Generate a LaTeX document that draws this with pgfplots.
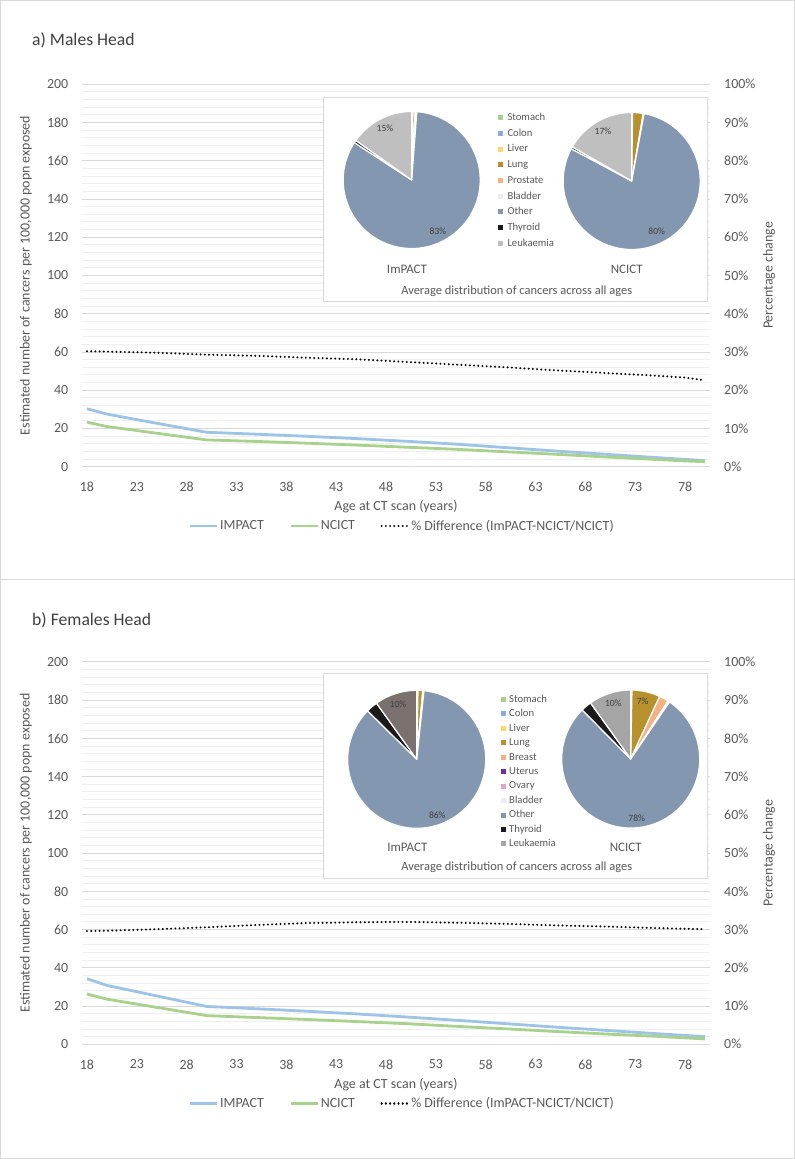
\documentclass[border=0pt]{standalone}
\usepackage{pgfplots}
\usepackage{pgfplotstable}
\pgfplotsset{compat=1.18}
\usepackage{fontspec}
\setmainfont{Carlito}
\newcommand\fs[1]{\fontsize{#1}{#1}\selectfont}

\definecolor{txt}{HTML}{595959}
\definecolor{dark}{HTML}{404040}
\definecolor{gridmaj}{HTML}{D9D9D9}
\definecolor{gridmin}{HTML}{EFEFEF}
\definecolor{cImpact}{HTML}{9DC3E6}
\definecolor{cNcict}{HTML}{A9D18E}
\definecolor{pStomach}{HTML}{A9D18E}
\definecolor{pColon}{HTML}{8FAADC}
\definecolor{pLiver}{HTML}{FFD966}
\definecolor{pLung}{HTML}{B8912F}
\definecolor{pProstate}{HTML}{F4B183}
\definecolor{pBreast}{HTML}{F4B183}
\definecolor{pUterus}{HTML}{7030A0}
\definecolor{pOvary}{HTML}{E6A5C8}
\definecolor{pBladder}{HTML}{EDEDED}
\definecolor{pOther}{HTML}{8497B0}
\definecolor{pThyroid}{HTML}{1A1A1A}
\definecolor{pLeukM}{HTML}{BFBFBF}
\definecolor{pLeukFa}{HTML}{7A706E}
\definecolor{pLeukFb}{HTML}{A5A5A5}

% age, IMPACT, NCICT (cancers per 100,000), % difference
\pgfplotstableread{
age impact ncict diff
18 30.3 23.3 30.2
20 27.5 21.0 30.1
25 22.7 17.5 29.8
30 18.0 14.0 29.3
35 17.0 13.2 29.0
40 15.9 12.3 28.5
45 14.7 11.3 28.1
50 13.3 10.2 27.4
55 11.8 9.1 26.7
60 10.0 7.8 26.0
65 8.2 6.5 25.2
70 6.5 5.1 24.5
75 4.8 3.8 23.8
78 3.8 3.0 23.3
80 3.2 2.6 22.6
}\maletab

\pgfplotstableread{
age impact ncict diff
18 34.3 26.3 29.6
20 30.8 23.6 29.7
25 25.3 19.3 30.1
30 19.8 15.0 30.6
35 18.6 14.0 31.2
40 17.3 13.0 31.7
45 15.9 11.9 31.9
50 14.3 10.8 32.0
55 12.6 9.4 31.8
60 10.8 8.1 31.5
65 9.0 6.7 31.1
70 7.3 5.4 30.8
75 5.6 4.2 30.4
80 4.0 2.8 30.1
}\femtab

\pgfplotsset{
 leftax/.style={
  scale only axis, width=628bp, height=382.4bp, anchor=south west,
  xmin=17.5, xmax=80.5, ymin=0, ymax=200,
  xtick={18,23,...,78}, ytick={0,20,...,200}, minor y tick num=4,
  ymajorgrids, yminorgrids,
  major grid style={draw=gridmaj, line width=0.9bp},
  minor grid style={draw=gridmin, line width=0.9bp},
  axis line style={draw=none}, tick style={draw=none},
  major tick length=0pt, minor tick length=0pt,
  /pgf/number format/assume math mode=true,
  tick label style={font=\fs{14}, text=txt, inner sep=0pt},
  xticklabel style={anchor=center, yshift=-20bp},
  yticklabel style={anchor=east, xshift=-13.5bp},
  xlabel={Age at CT scan (years)},
  ylabel={Estimated number of cancers per 100,000 popn exposed},
  every axis x label/.style={at={(axis description cs:0.5,-0.1054)}, anchor=center, font=\fs{14}, text=txt},
  every axis y label/.style={at={(axis description cs:-0.0892,0.5)}, anchor=center, rotate=90, font=\fs{14}, text=txt},
  legend style={at={(0.5096,-0.155)}, anchor=center, draw=none, fill=none,
    legend columns=3, font=\fs{14}, text=txt,
    /tikz/every even column/.append style={column sep=24bp},
    nodes={inner sep=1.5bp}},
  legend image code/.code={\draw[##1] (0bp,0bp) -- (27bp,0bp);},
 },
 rightax/.style={
  scale only axis, width=628bp, height=382.4bp, anchor=south west,
  xmin=17.5, xmax=80.5, ymin=0, ymax=100,
  axis y line*=right, hide x axis,
  axis line style={draw=none}, tick style={draw=none},
  major tick length=0pt, minor tick length=0pt,
  ytick={0,10,...,100},
  yticklabel={\pgfmathprintnumber{\tick}\%},
  /pgf/number format/assume math mode=true,
  tick label style={font=\fs{14}, text=txt, inner sep=0pt},
  yticklabel style={anchor=west, xshift=14bp},
  ylabel={Percentage change},
  every axis y label/.style={at={(axis description cs:1.094,0.5)}, anchor=center, rotate=90, font=\fs{14}, text=txt},
 },
 impactline/.style={cImpact, line width=2.8bp, line join=round},
 ncictline/.style={cNcict, line width=2.8bp, line join=round},
 diffline/.style={black, line width=2.2bp, dash pattern=on 0.01bp off 4.2bp, line cap=round},
}

% pie: centre x, centre y, radius, list of share/colour (clockwise from 12 o'clock)
\newcommand\pie[4]{%
  \gdef\cum{0}%
  \foreach \v/\col in {#4}{%
    \pgfmathsetmacro\sa{90-3.6*\cum}%
    \pgfmathsetmacro\ea{90-3.6*(\cum+\v)}%
    \filldraw[fill=\col, draw=white, line width=1.2bp, line join=round]
      (#1,#2) -- ++(\sa:#3) arc[start angle=\sa, end angle=\ea, radius=#3] -- cycle;%
    \pgfmathsetmacro\nc{\cum+\v}%
    \xdef\cum{\nc}%
  }%
}

\begin{document}
\begin{tikzpicture}[x=1bp,y=1bp]
\useasboundingbox (0,0) rectangle (795,1159);

% panel frames
\draw[gridmaj, line width=0.9bp] (0.5,1158.5) rectangle (794.5,579.7);
\draw[gridmaj, line width=0.9bp] (0.5,579.7) rectangle (794.5,0.8);

% ---------------- a) Males Head ----------------
\node[anchor=west, font=\fs{17.7}, text=dark, inner sep=0pt] at (32,1118.3) {a) Males Head};

\begin{axis}[leftax, at={(82bp,692.3bp)}]
\addplot[impactline] table[x=age, y=impact] \maletab;
\addlegendentry{IMPACT}
\addplot[ncictline] table[x=age, y=ncict] \maletab;
\addlegendentry{NCICT}
\addlegendimage{diffline}
\addlegendentry{\% Difference (ImPACT-NCICT/NCICT)}
\end{axis}
\begin{axis}[rightax, at={(82bp,692.3bp)}]
\addplot[diffline] table[x=age, y=diff] \maletab;
\end{axis}

\filldraw[fill=white, draw=gridmaj, line width=0.9bp] (323,857.3) rectangle (707.7,1062);
\pie{411.7}{979}{68.5}{0.1/pStomach,0.1/pColon,0.1/pLiver,0.5/pLung,0.2/pProstate,0.2/pBladder,83.0/pOther,0.6/pThyroid,15.2/pLeukM}
\pie{631.7}{978}{68.5}{0.05/pStomach,0.05/pColon,0.1/pLiver,2.5/pLung,0.1/pProstate,0.1/pBladder,79.9/pOther,0.5/pThyroid,16.7/pLeukM}
\begin{scope}[every node/.style={inner sep=0pt, text=dark, font=\fs{9.6}}]
\node at (385,1030.7) {15\%};
\node at (438,928) {83\%};
\node at (603,1028) {17\%};
\node at (656.7,927.3) {80\%};
\end{scope}
\node[inner sep=0pt, text=txt, font=\fs{13}] at (407,890) {ImPACT};
\node[inner sep=0pt, text=txt, font=\fs{13}] at (626.7,890) {NCICT};
\node[inner sep=0pt, text=txt, font=\fs{12.5}] at (516.7,868) {Average distribution of cancers across all ages};
\foreach \n/\col [count=\i] in {Stomach/pStomach,Colon/pColon,Liver/pLiver,Lung/pLung,Prostate/pProstate,Bladder/pBladder,Other/pOther,Thyroid/pThyroid,Leukaemia/pLeukM}{
  \pgfmathsetmacro\yy{1041.3-15.7*(\i-1)}
  \fill[\col] (497.5,\yy-2.5) rectangle ++(5,5);
  \node[anchor=west, inner sep=0pt, text height=1.45ex, text depth=0.25ex, text=txt, font=\fs{10.7}] at (507.3,\yy) {\n};
}

% ---------------- b) Females Head ----------------
\node[anchor=west, font=\fs{17.7}, text=dark, inner sep=0pt] at (32,539) {b) Females Head};

\begin{axis}[leftax, at={(82bp,114.7bp)}]
\addplot[impactline] table[x=age, y=impact] \femtab;
\addlegendentry{IMPACT}
\addplot[ncictline] table[x=age, y=ncict] \femtab;
\addlegendentry{NCICT}
\addlegendimage{diffline}
\addlegendentry{\% Difference (ImPACT-NCICT/NCICT)}
\end{axis}
\begin{axis}[rightax, at={(82bp,114.7bp)}]
\addplot[diffline] table[x=age, y=diff] \femtab;
\end{axis}

\filldraw[fill=white, draw=gridmaj, line width=0.9bp] (323,280.3) rectangle (707.7,485.3);
\pie{416.7}{399.7}{69}{0.1/pStomach,0.1/pColon,0.1/pLiver,1.1/pLung,0.1/pBreast,0.05/pUterus,0.05/pOvary,0.1/pBladder,85.7/pOther,2.7/pThyroid,9.9/pLeukFa}
\pie{630.7}{400}{69}{0.1/pStomach,0.1/pColon,0.1/pLiver,6.6/pLung,2.2/pBreast,0.1/pUterus,0.1/pOvary,0.2/pBladder,78.1/pOther,2.5/pThyroid,9.9/pLeukFb}
\begin{scope}[every node/.style={inner sep=0pt, text=dark, font=\fs{9.6}}]
\node at (398,454.7) {10\%};
\node at (437.3,343.3) {86\%};
\node at (613.3,455.7) {10\%};
\node at (642.7,457.3) {7\%};
\node at (636.7,340.7) {78\%};
\end{scope}
\node[inner sep=0pt, text=txt, font=\fs{13}] at (407.3,311.3) {ImPACT};
\node[inner sep=0pt, text=txt, font=\fs{13}] at (625.7,311.3) {NCICT};
\node[inner sep=0pt, text=txt, font=\fs{12.5}] at (516.7,291.3) {Average distribution of cancers across all ages};
\foreach \n/\col [count=\i] in {Stomach/pStomach,Colon/pColon,Liver/pLiver,Lung/pLung,Breast/pBreast,Uterus/pUterus,Ovary/pOvary,Bladder/pBladder,Other/pOther,Thyroid/pThyroid,Leukaemia/pLeukFb}{
  \pgfmathsetmacro\yy{459.7-14.47*(\i-1)}
  \fill[\col] (500.8,\yy-2.5) rectangle ++(5,5);
  \node[anchor=west, inner sep=0pt, text height=1.45ex, text depth=0.25ex, text=txt, font=\fs{10.7}] at (509,\yy) {\n};
}
\end{tikzpicture}
\end{document}
